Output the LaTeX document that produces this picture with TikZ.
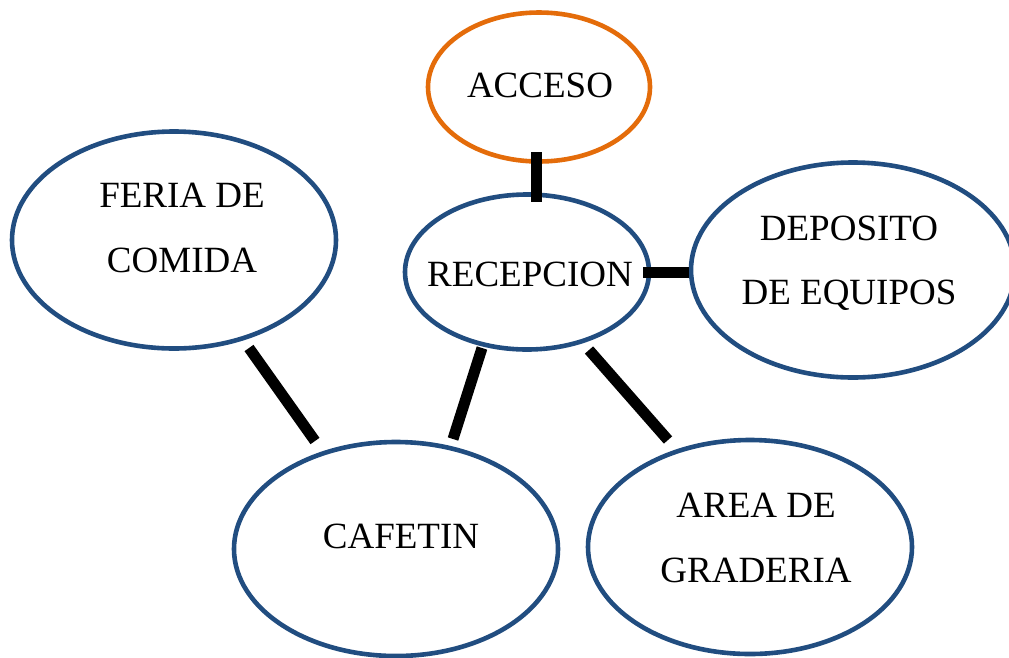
\documentclass[tikz,border=0pt]{standalone}
\usepackage{fontspec}
\setmainfont{Liberation Serif}
\usetikzlibrary{shapes.geometric}
\definecolor{ellblue}{HTML}{214D80}
\definecolor{ellorange}{HTML}{E46C0A}
\begin{document}
\begin{tikzpicture}[x=1pt,y=-1pt,
  ell/.style={ellipse,draw=ellblue,line width=4.6pt,inner sep=0pt,fill=white},
  ellor/.style={ell,draw=ellorange},
  lbl/.style={anchor=base,inner sep=0pt,font=\fontsize{37}{44}\selectfont},
  link/.style={line width=11pt,line cap=butt}]
\useasboundingbox (0,0) rectangle (1009,657);
% ellipses
\node[ellor,minimum width=222pt,minimum height=149pt] (acc) at (539,87) {};
\node[ell,minimum width=244pt,minimum height=155pt] (rec) at (527,272) {};
\node[ell,minimum width=324pt,minimum height=217pt] (fer) at (174,240) {};
\node[ell,minimum width=324pt,minimum height=215pt] (dep) at (853,270) {};
\node[ell,minimum width=324pt,minimum height=214pt] (caf) at (396,549) {};
\node[ell,minimum width=324pt,minimum height=214pt] (are) at (750,547) {};
% labels
\node[lbl] (acct) at (540,97) {ACCESO};
\node[lbl] (rect) at (530,286) {RECEPCION};
\node[lbl] (fert1) at (182,207) {FERIA DE};
\node[lbl] (fert2) at (182,272) {COMIDA};
\node[lbl] (dept1) at (849,240) {DEPOSITO};
\node[lbl] (dept2) at (849,304) {DE EQUIPOS};
\node[lbl] (caft) at (401,548) {CAFETIN};
\node[lbl] (aret1) at (756,517) {AREA DE};
\node[lbl] (aret2) at (756,582) {GRADERIA};
% connector ends
\coordinate (acc-s) at (536,152);
\coordinate (rec-n) at (536,202);
\coordinate (rec-e) at (643,272);
\coordinate (dep-w) at (689,272);
\coordinate (fer-se) at (249,348);
\coordinate (caf-nw) at (315,441);
\coordinate (rec-sw) at (482,348);
\coordinate (caf-ne) at (453,439);
\coordinate (rec-se) at (589,350);
\coordinate (are-nw) at (668,440);
% connectors
\draw[link] (acc-s) -- (rec-n);
\draw[link] (rec-e) -- (dep-w);
\draw[link] (fer-se) -- (caf-nw);
\draw[link] (rec-sw) -- (caf-ne);
\draw[link] (rec-se) -- (are-nw);
\end{tikzpicture}
\end{document}
